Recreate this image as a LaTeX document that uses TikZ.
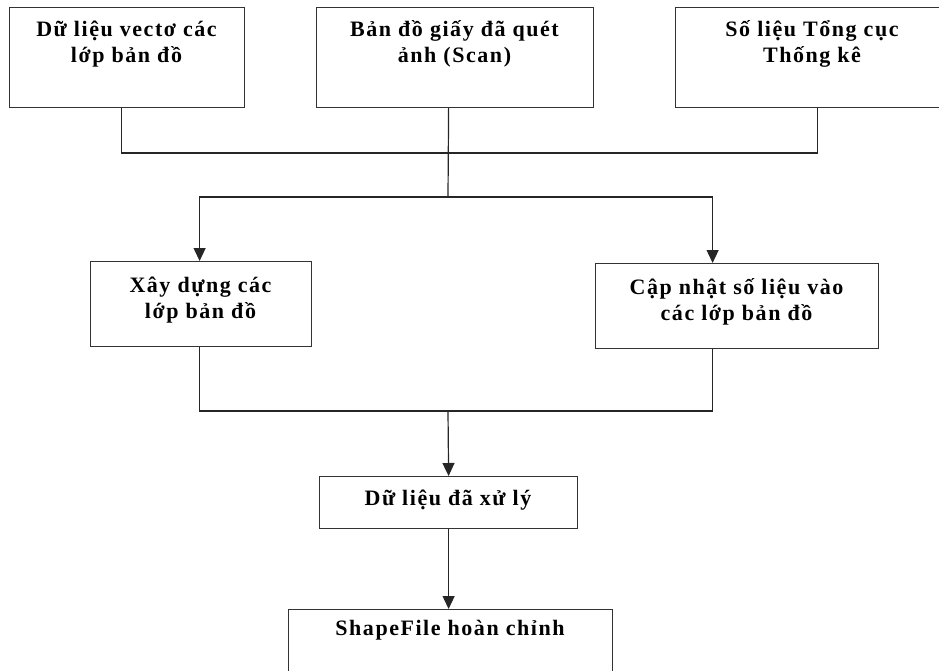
\documentclass[tikz,border=0pt]{standalone}
\usepackage{fontspec}
\setmainfont{Liberation Serif}[LetterSpace=7]
\usetikzlibrary{arrows.meta}
\begin{document}
\begin{tikzpicture}[x=1pt,y=-1pt,
  box/.style={draw=black!80, line width=1.2pt, inner sep=0pt, anchor=north west},
  lbl/.style={inner sep=0pt, anchor=base, font=\fontsize{22}{26}\selectfont\bfseries},
  conn/.style={draw=black!85, line width=1.2pt},
  arr/.style={conn, -{Triangle[width=12pt,length=13pt]}}]
\useasboundingbox (0,0) rectangle (939,671);
\clip (0,0) rectangle (939,671);
\renewcommand\arraystretch{1}
\setlength\tabcolsep{0pt}
% boxes
\node[box, minimum width=235pt, minimum height=100pt] (b1) at (9,7) {};
\node[box, minimum width=277pt, minimum height=100pt] (b2) at (316,7) {};
\node[box, minimum width=275pt, minimum height=100pt] (b3) at (675,7) {};
\node[box, minimum width=221pt, minimum height=85pt] (b4) at (90,261) {};
\node[box, minimum width=283pt, minimum height=85pt] (b5) at (595,263) {};
\node[box, minimum width=258pt, minimum height=52pt] (b6) at (319,476) {};
\node[box, minimum width=324pt, minimum height=100pt] (b7) at (288,609) {};
% labels
\node[lbl] (t1) at (126.5,37) {\begin{tabular}[t]{c}Dữ liệu vectơ các\\lớp bản đồ\end{tabular}};
\node[lbl] (t2) at (454.5,37) {\begin{tabular}[t]{c}Bản đồ giấy đã quét\\ảnh (Scan)\end{tabular}};
\node[lbl] (t3) at (812,37) {\begin{tabular}[t]{c}Số liệu Tổng cục\\Thống kê\end{tabular}};
\node[lbl] (t4) at (200.5,292) {\begin{tabular}[t]{c}Xây dựng các\\lớp bản đồ\end{tabular}};
\node[lbl] (t5) at (736.5,294) {\begin{tabular}[t]{c}Cập nhật số liệu vào\\các lớp bản đồ\end{tabular}};
\node[lbl] (t6) at (448,505) {Dữ liệu đã xử lý};
\node[lbl] (t7) at (450,635) {ShapeFile hoàn chỉnh};
% junctions
\coordinate (j1) at (448,153);
\coordinate (j2) at (448,197);
\coordinate (j3) at (448,411);
% connectors
\draw[conn] ([xshift=-5.5pt]b1.south) |- (j1) -| ([xshift=4.5pt]b3.south);
\draw[conn] ([xshift=-6.5pt]b2.south) -- (j2);
\draw[arr] (j2) -| ([xshift=-1.5pt]b4.north);
\draw[arr] (j2) -| ([xshift=-24.5pt]b5.north);
\draw[conn] ([xshift=-1.5pt]b4.south) |- (j3) -| ([xshift=-24.5pt]b5.south);
\draw[arr] (j3) -- (b6.north);
\draw[arr] (b6.south) -- (b6.south |- b7.north);
\end{tikzpicture}
\end{document}
